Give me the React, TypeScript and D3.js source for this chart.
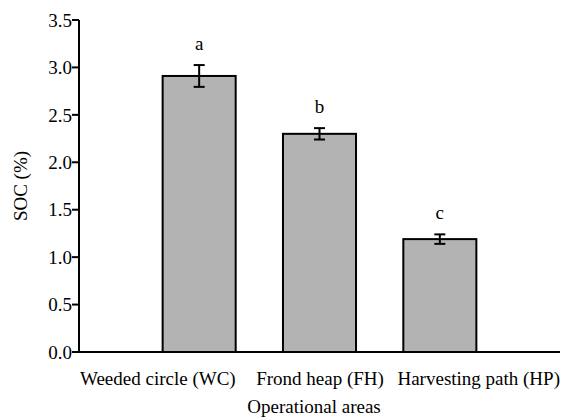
import React from "react";
import * as d3 from "d3";

const categories = ["Weeded circle (WC)", "Frond heap (FH)", "Harvesting path (HP)"];
const means = [2.91, 2.3, 1.19];
const errors = [0.115, 0.06, 0.05];
const letters = ["a", "b", "c"];
const yTicks = [0, 0.5, 1.0, 1.5, 2.0, 2.5, 3.0, 3.5];
const xTitle = "Operational areas";
const yTitle = "SOC (%)";

const W = 561;
const H = 417;
const left = 79;
const right = 560;
const top = 20;
const bottom = 352;
const FONT = '"Liberation Serif", "Times New Roman", Times, "DejaVu Serif", serif';
const textStyle = { fontFamily: FONT, fontSize: "19px" };

export default function App() {
  const y = d3.scaleLinear().domain([0, 3.5]).range([bottom, top]);
  const x = d3
    .scaleBand<string>()
    .domain(categories)
    .range([left, right])
    .paddingInner(0.393)
    .paddingOuter(0.695);
  const labelPos = d3.scalePoint<string>().domain(categories).range([left + 1, right]);
  const anchors = ["start", "middle", "end"];

  return (
    <svg
      width={W}
      height={H}
      style={{ position: "absolute", left: 0, top: 0, background: "#fff" }}
    >
      {categories.map((c, i) => (
        <rect
          key={c}
          x={x(c)!}
          y={y(means[i])}
          width={x.bandwidth()}
          height={y(0) - y(means[i])}
          fill="#b3b3b3"
          stroke="#000"
          strokeWidth={2}
        />
      ))}
      {categories.map((c, i) => {
        const cx = x(c)! + x.bandwidth() / 2;
        const y1 = y(means[i] + errors[i]);
        const y2 = y(means[i] - errors[i]);
        return (
          <g key={"e" + c} stroke="#000" strokeWidth={2}>
            <line x1={cx} x2={cx} y1={y1} y2={y2} />
            <line x1={cx - 5.5} x2={cx + 5.5} y1={y1} y2={y1} />
            <line x1={cx - 5.5} x2={cx + 5.5} y1={y2} y2={y2} />
          </g>
        );
      })}
      {categories.map((c, i) => (
        <text
          key={"l" + c}
          x={x(c)! + x.bandwidth() / 2}
          y={y(means[i] + errors[i]) - 15}
          textAnchor="middle"
          style={textStyle}
        >
          {letters[i]}
        </text>
      ))}
      <line x1={left} x2={left} y1={top} y2={bottom} stroke="#000" strokeWidth={2} />
      <line x1={left - 1} x2={right} y1={bottom} y2={bottom} stroke="#000" strokeWidth={2} />
      {yTicks.map((t) => (
        <g key={t}>
          <line x1={left - 7} x2={left} y1={y(t)} y2={y(t)} stroke="#000" strokeWidth={2} />
          <text x={left - 7} y={y(t)} dy="0.35em" textAnchor="end" style={textStyle}>
            {t.toFixed(1)}
          </text>
        </g>
      ))}
      {categories.map((c, i) => (
        <text key={"x" + c} x={labelPos(c)!} y={385} textAnchor={anchors[i]} style={textStyle}>
          {c}
        </text>
      ))}
      <text x={314} y={413} textAnchor="middle" style={textStyle}>
        {xTitle}
      </text>
      <text transform={`translate(27,186) rotate(-90)`} textAnchor="middle" style={textStyle}>
        {yTitle}
      </text>
    </svg>
  );
}
